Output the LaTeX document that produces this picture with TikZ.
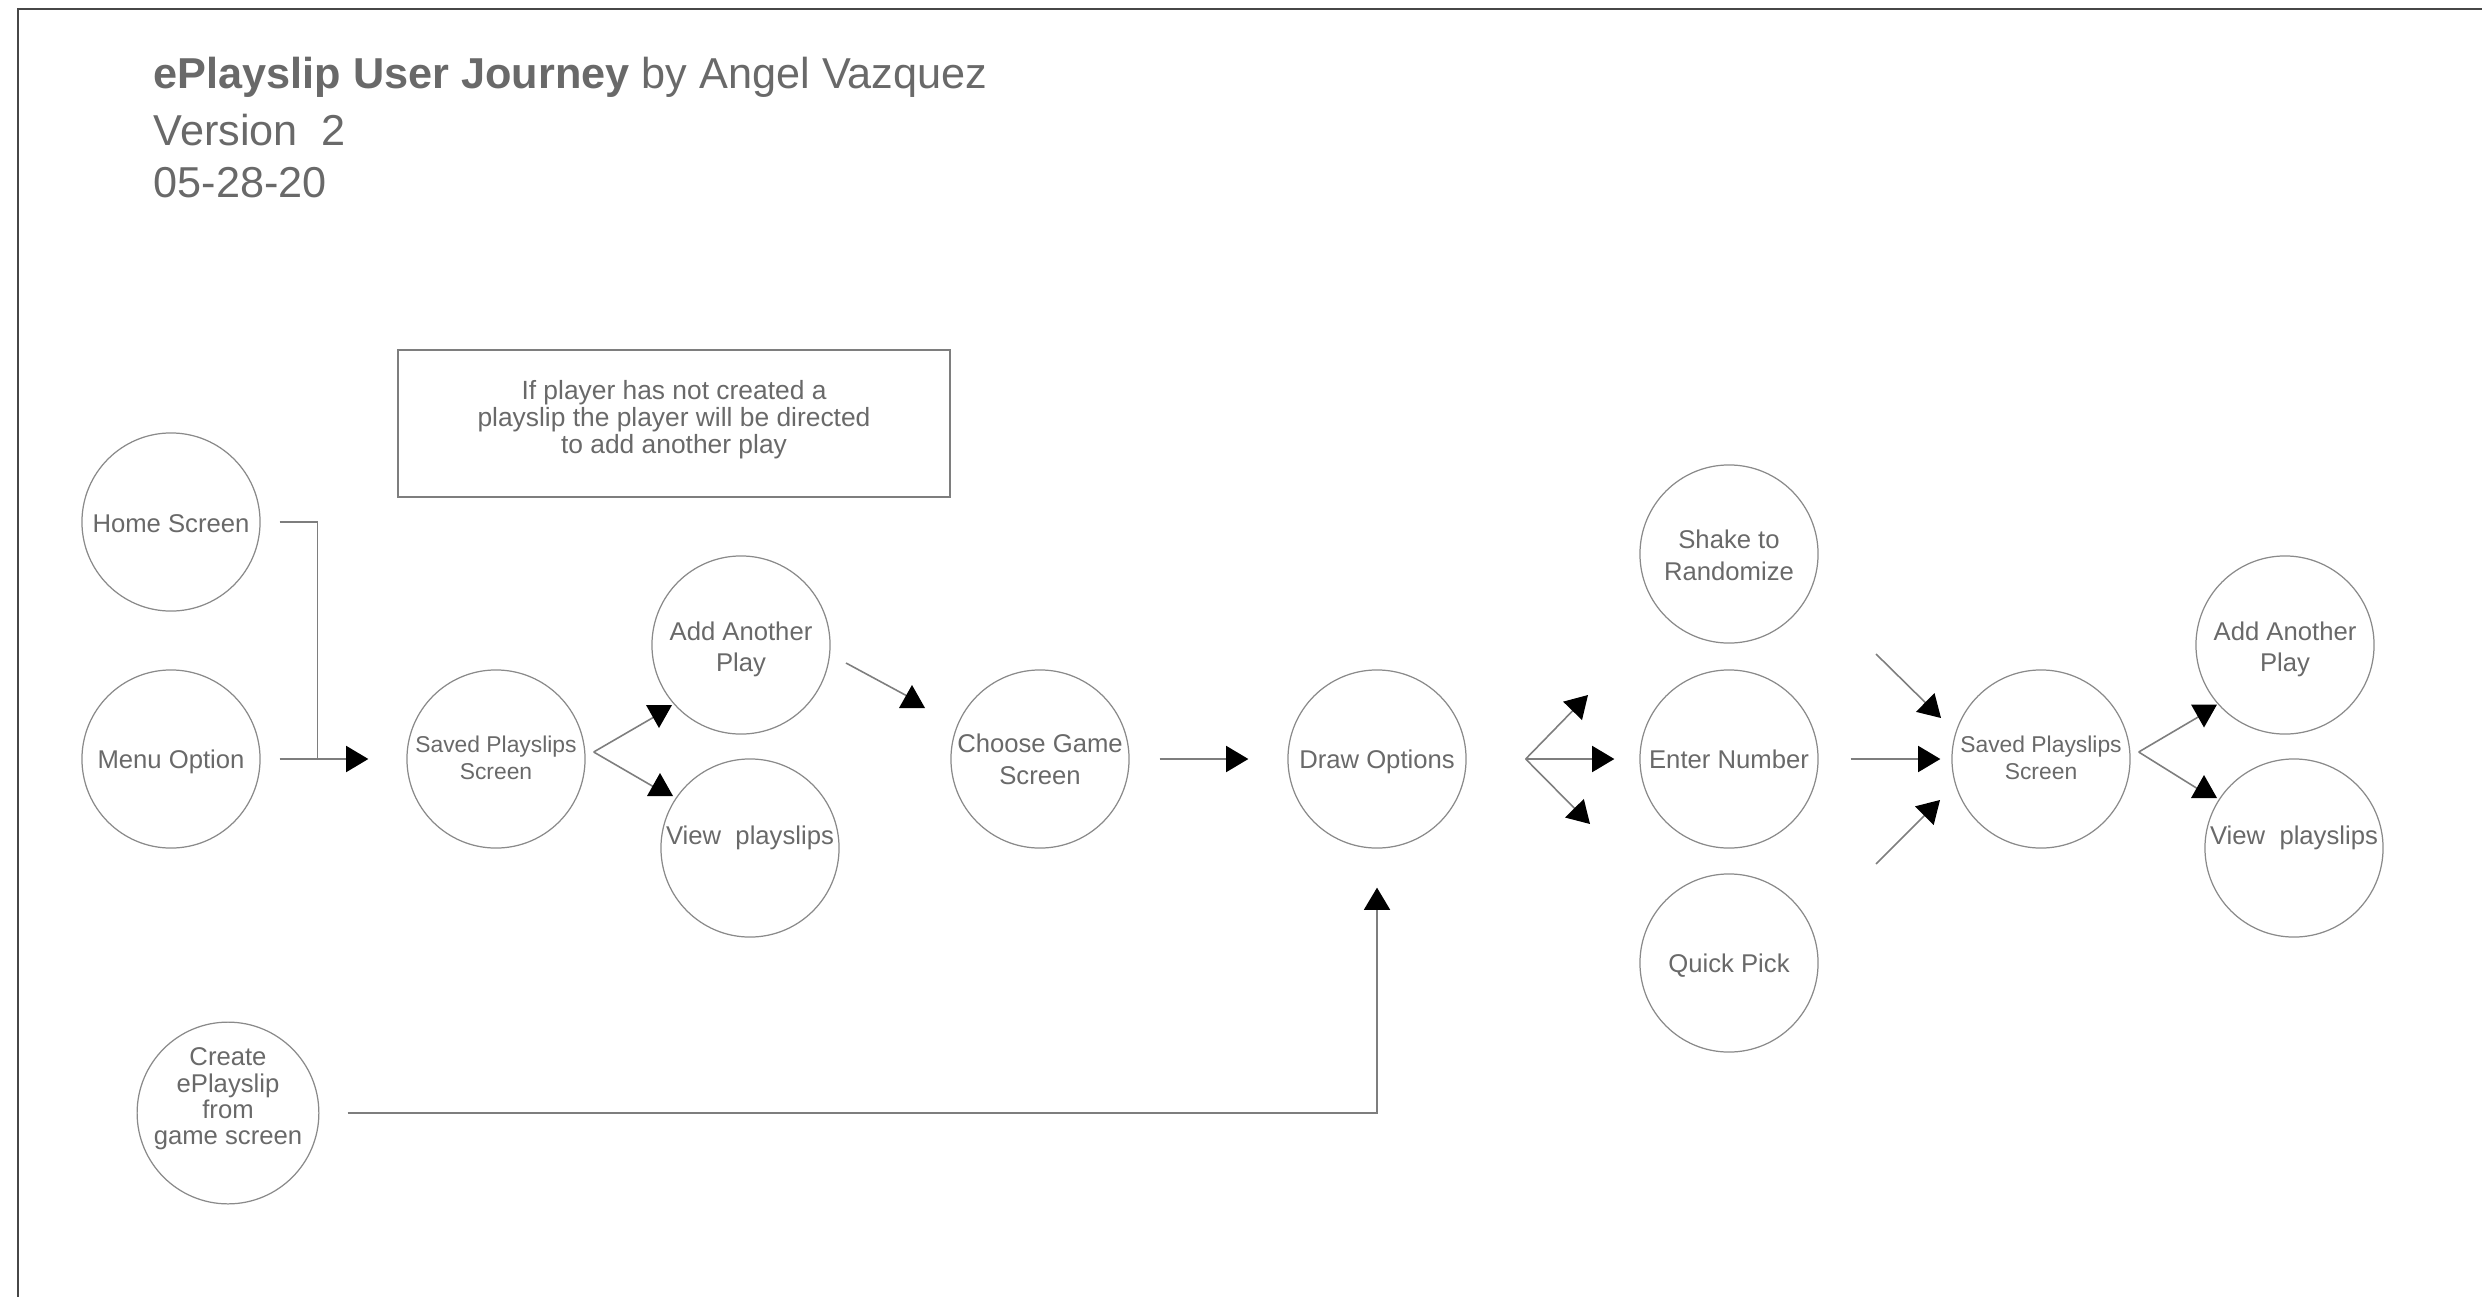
\documentclass[tikz,border=0pt]{standalone}
\usepackage{fontspec}
\setmainfont{Liberation Sans}
\usetikzlibrary{arrows.meta,calc}

\definecolor{txt}{HTML}{696969}
\definecolor{ring}{HTML}{8A8A8A}
\definecolor{wire}{HTML}{7E7E7E}
\definecolor{frameline}{HTML}{474747}

% text block moved up (or down) inside its node while keeping the node size
\newcommand{\lifted}[2]{\raisebox{#1}[\height][\depth]{\begin{tabular}{@{}c@{}}#2\end{tabular}}}

\tikzset{
  screen/.style={circle, draw=ring, line width=0.35pt, minimum size=1.78cm,
    inner sep=0pt, text=txt, align=center, font=\fontsize{7.3pt}{9pt}\selectfont},
  smalltext/.style={font=\fontsize{6.5pt}{7.7pt}\selectfont},
  tighttext/.style={font=\fontsize{7.3pt}{7.5pt}\selectfont},
  heading/.style={anchor=base west, inner sep=0pt, text=txt,
    font=\fontsize{12.3pt}{14pt}\selectfont},
  notebox/.style={draw=wire, line width=0.4pt, minimum width=5.52cm,
    minimum height=1.47cm, inner sep=0pt, text=txt, align=center,
    font=\fontsize{7.5pt}{7.45pt}\selectfont},
  conn/.style={draw=wire, line width=0.45pt},
  tip/.style={-{Triangle[length=6.3pt,width=7.4pt,color=black]}},
  pics/headdown/.style={code={\fill[black] (0,0) -- (-13,-23) -- (13,-23) -- cycle;}},
  pics/headup/.style={code={\fill[black] (0,0) -- (-13,23) -- (13,23) -- cycle;}},
}

\begin{document}
\begin{tikzpicture}[x=0.01cm, y=-0.01cm]
\useasboundingbox (0,0) rectangle (2482,1297);

% page frame
\draw[frameline, line width=0.65pt] (2482,9) -- (17.7,9) -- (17.7,1297);

% heading
\node[heading] (title) at (153,89) {\textbf{ePlayslip User Journey} by Angel Vazquez};
\node[heading] (version) at (153,146) {Version\ \ 2};
\node[heading] (date) at (153,198) {05-28-20};

% note
\node[notebox] (note) at (674,423.5)
  {\lifted{0.7pt}{If player has not created a\\playslip the player will be directed\\to add another play}};

% screens
\node[screen] (home) at (171,522) {\lifted{-1.2pt}{Home Screen}};
\node[screen] (menu) at (171,759) {\lifted{-0.8pt}{Menu Option}};
\node[screen, smalltext] (saved1) at (496,759) {\lifted{-0.5pt}{Saved Playslips\\Screen}};
\node[screen] (add1) at (741,645) {\lifted{-1.3pt}{Add Another\\Play}};
\node[screen] (view1) at (750,848) {\lifted{2.9pt}{View\ \ playslips}};
\node[screen] (choose) at (1040,759) {Choose Game\\Screen};
\node[screen] (drawopt) at (1377,759) {\lifted{-0.8pt}{Draw Options}};
\node[screen] (shake) at (1729,554) {\lifted{-1.2pt}{Shake to\\Randomize}};
\node[screen] (enter) at (1729,759) {Enter Number};
\node[screen] (quick) at (1729,963) {\lifted{-0.8pt}{Quick Pick}};
\node[screen, smalltext] (saved2) at (2041,759) {\lifted{-0.5pt}{Saved Playslips\\Screen}};
\node[screen] (add2) at (2285,645) {\lifted{-1.3pt}{Add Another\\Play}};
\node[screen] (view2) at (2294,848) {\lifted{2.9pt}{View\ \ playslips}};
\node[screen, tighttext] (create) at (228,1113)
  {\lifted{3.7pt}{Create\\ePlayslip\\from\\game screen}};

% home / menu into saved playslips
\coordinate (join) at ($(menu.east)+(57,0)$);
\draw[conn] ($(home.east)+(19,0)$) -| (join);
\draw[conn, tip] ($(menu.east)+(19,0)$) -- ($(saved1.west)+(-38,0)$);

% saved playslips fan
\coordinate (s1fan) at ($(saved1.east)+(8,-7)$);
\coordinate (a1head) at ($(add1)+(-82,83)$);
\coordinate (v1head) at ($(view1)+(-90,-75)$);
\draw[conn] (s1fan) -- ($(a1head)+(-5,-11)$);
\draw[conn] (s1fan) -- ($(v1head)+(-6,14)$);
\pic at (a1head) {headdown};
\pic at (v1head) {headup};

% add another play to choose game
\coordinate (c1head) at ($(choose)+(-128,-74)$);
\draw[conn] ($(add1)+(105,18)$) -- ($(c1head)+(-3,12)$);
\pic at (c1head) {headup};

% choose game to draw options
\draw[conn, tip] ($(choose.east)+(30,0)$) -- ($(drawopt.west)+(-39,0)$);

% draw options fan
\coordinate (dfan) at ($(drawopt.east)+(59,0)$);
\draw[conn, tip] (dfan) -- ($(enter)+(-141,-64)$);
\draw[conn, tip] (dfan) -- ($(enter.west)+(-25,0)$);
\draw[conn, tip] (dfan) -- ($(enter)+(-139,65)$);

% options into saved playslips
\coordinate (shakeout) at ($(shake)+(147,100)$);
\coordinate (quickout) at ($(quick)+(147,-99)$);
\draw[conn, tip] ($(enter.east)+(32,0)$) -- ($(saved2.west)+(-11,0)$);
\draw[conn, tip] (shakeout) -- ($(saved2)+(-100,-41)$);
\draw[conn, tip] (quickout) -- ($(saved2)+(-101,41)$);

% second saved playslips fan
\coordinate (s2fan) at ($(saved2.east)+(8,-7)$);
\coordinate (a2head) at ($(add2)+(-81,82.5)$);
\coordinate (v2head) at ($(view2)+(-90,-73)$);
\draw[conn] (s2fan) -- ($(a2head)+(-5,-11)$);
\draw[conn] (s2fan) -- ($(v2head)+(-6,14)$);
\pic at (a2head) {headdown};
\pic at (v2head) {headup};

% create from game screen into draw options
\draw[conn, tip] ($(create.east)+(28,0)$) -| ($(drawopt.south)+(0,39)$);
\end{tikzpicture}
\end{document}
